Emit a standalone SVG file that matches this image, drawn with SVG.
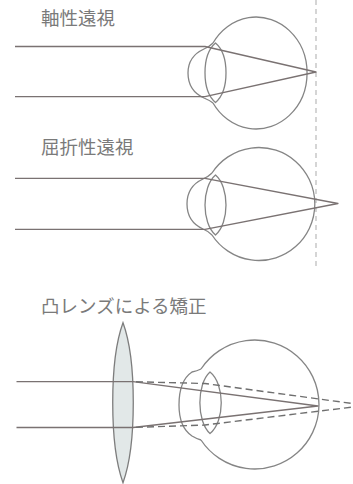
<svg xmlns="http://www.w3.org/2000/svg" width="353" height="484" viewBox="0 0 353 484">
  <style>
    .bg { fill: #ffffff; }
    .title { font-family: "Noto Sans CJK JP", "Noto Sans", sans-serif; font-size: 18.5px; fill: #7a7a7a; }
    .eye { fill: none; stroke: #858585; stroke-width: 1.3; stroke-linejoin: round; }
    .ray { fill: none; stroke: #7a7272; stroke-width: 1.3; stroke-linejoin: round; }
    .ray-dash { fill: none; stroke: #6f6f6f; stroke-width: 1.4; stroke-dasharray: 7 4; }
    .retina-line { fill: none; stroke: #ababab; stroke-width: 1; stroke-dasharray: 5 4; }
    .convex { fill: #e2e8e8; stroke: #7d7d7d; stroke-width: 1.3; }
  </style>

  <rect class="bg" x="0" y="0" width="353" height="484"/>

  <!-- section headings -->
  <g id="label-axial">
    <text class="title" x="41" y="25.4">軸性遠視</text>
  </g>
  <g id="label-refractive">
    <text class="title" x="41" y="153.7">屈折性遠視</text>
  </g>
  <g id="label-correction">
    <text class="title" x="41" y="312.5">凸レンズによる矯正</text>
  </g>

  <!-- normal retina position -->
  <g id="retina-reference">
    <line class="retina-line" x1="316" y1="0" x2="316" y2="270"/>
  </g>

  <!-- eye 1: short eyeball -->
  <g id="eye-axial">
    <path class="eye" d="M 213,43 A 51 56 0 1 1 213,103"/>
    <path class="eye" d="M 213,43 Q 209,47 204,49 C 193,54 188,63 188,73 C 188,84 193,93 204,98 Q 209,100 213,103"/>
    <path class="eye" d="M 215.5,43 C 201.5,55 201.5,90.5 215.5,102.5 C 229.5,90.5 229.5,55 215.5,43 Z"/>
  </g>

  <!-- eye 2: normal length, weak refraction -->
  <g id="eye-refractive">
    <path class="eye" d="M 212,173 A 56 56.5 0 1 1 212,235"/>
    <path class="eye" d="M 212,173 Q 208,177 203,179 C 192,184 187,193 187,204 C 187,215 192,224 203,229 Q 208,231 212,235"/>
    <path class="eye" d="M 215.5,175 C 201.5,187 201.5,223 215.5,235 C 229.5,223 229.5,187 215.5,175 Z"/>
  </g>

  <!-- convex correcting lens -->
  <g id="convex-lens">
    <path class="convex" d="M 123,322.7 C 109.3,360 109.3,445 123,482.7 C 136.7,445 136.7,360 123,322.7 Z"/>
  </g>

  <!-- eye 3: corrected eye -->
  <g id="eye-corrected">
    <path class="eye" d="M 201,369 A 64.3 64.5 0 1 1 201,440"/>
    <path class="eye" d="M 201,369 Q 197,371 192,372 C 183,378 179,391 179,405 C 179,419 183,430 192,436 Q 197,439 201,440"/>
    <path class="eye" d="M 210,372 C 196.5,384 196.5,421.5 210,433.5 C 225,421.5 225,384 210,372 Z"/>
  </g>

  <!-- light rays -->
  <g id="rays">
    <polyline class="ray" points="15,46.5 205,46.5 316,72 205,96.7 15,96.7"/>
    <polyline class="ray" points="15,178.3 205,178.3 338,203.5 205,229.3 15,229.3"/>
    <polyline class="ray" points="16.5,381.7 133,381.7 318,406 133,427.5 16.5,427.5"/>
    <polyline class="ray-dash" points="136,381.8 205,383.5 353,403.6"/>
    <polyline class="ray-dash" points="136,427.4 205,425 353,407"/>
  </g>
</svg>
